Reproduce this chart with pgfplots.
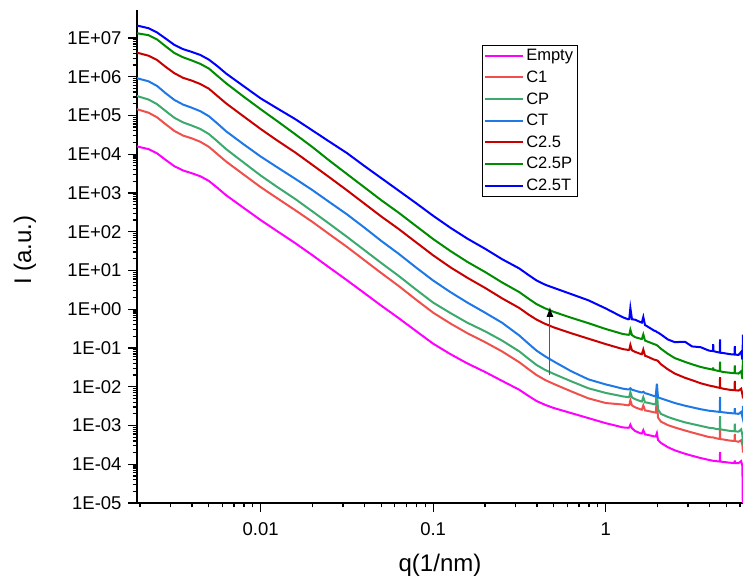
\documentclass[border=0pt]{standalone}
\usepackage{fontspec}
\setmainfont{Liberation Sans}
\usepackage{pgfplots}
\pgfplotsset{compat=1.18}
\usepackage{pgfplotstable}
\usetikzlibrary{arrows.meta}

\definecolor{cEmpty}{RGB}{255,0,255}
\definecolor{cCone}{RGB}{240,80,75}
\definecolor{cCP}{RGB}{60,170,110}
\definecolor{cCT}{RGB}{30,120,230}
\definecolor{cCtwo}{RGB}{200,0,0}
\definecolor{cCtwoP}{RGB}{0,140,0}
\definecolor{cCtwoT}{RGB}{0,0,255}

% q (1/nm) and intensity (a.u.) of each sample
\pgfplotstableread{
q       E         C1        CP        CT        C25       C25P      C25T
0.00192 1.585e4   1.445e5   3.162e5   9.120e5   4.169e6   1.318e7   2.089e7
0.00224 1.349e4   1.175e5   2.570e5   7.586e5   3.467e6   1.175e7   1.778e7
0.00251 1.047e4   8.913e4   1.950e5   5.754e5   2.692e6   9.120e6   1.380e7
0.00282 7.079e3   5.888e4   1.288e5   3.715e5   1.778e6   6.026e6   9.550e6
0.00316 4.898e3   3.981e4   8.710e4   2.512e5   1.230e6   4.074e6   6.607e6
0.00355 3.802e3   3.020e4   6.607e4   1.905e5   9.333e5   3.162e6   5.129e6
0.00398 3.236e3   2.570e4   5.495e4   1.585e5   7.943e5   2.630e6   4.365e6
0.00447 2.692e3   2.089e4   4.467e4   1.288e5   6.457e5   2.138e6   3.631e6
0.00501 2.042e3   1.549e4   3.311e4   9.550e4   4.898e5   1.622e6   2.754e6
0.00562 1.349e3   1.000e4   2.138e4   6.166e4   3.162e5   1.047e6   1.862e6
0.00631 8.710e2   6.457e3   1.349e4   3.890e4   2.042e5   6.761e5   1.202e6
0.00794 4.169e2   3.020e3   6.166e3   1.820e4   9.550e4   3.090e5   5.754e5
0.0100  1.995e2   1.413e3   2.818e3   8.710e3   4.467e4   1.445e5   2.754e5
0.0126  1.000e2   7.079e2   1.380e3   4.467e3   2.188e4   6.918e4   1.479e5
0.0158  5.129e1   3.631e2   7.079e2   2.344e3   1.122e4   3.311e4   8.128e4
0.0200  2.455e1   1.778e2   3.311e2   1.175e3   5.248e3   1.514e4   4.074e4
0.0251  1.175e1   8.511e1   1.585e2   5.754e2   2.512e3   6.761e3   2.089e4
0.0316  5.623     4.074e1   7.413e1   2.818e2   1.175e3   3.090e3   1.072e4
0.0398  2.630     1.862e1   3.388e1   1.288e2   5.370e2   1.413e3   5.012e3
0.0501  1.230     8.511     1.549e1   5.754e1   2.455e2   6.457e2   2.399e3
0.0631  5.888e-1  3.981     7.244     2.692e1   1.175e2   3.090e2   1.148e3
0.0794  2.754e-1  1.778     3.236     1.202e1   5.370e1   1.413e2   5.495e2
0.100   1.288e-1  8.128e-1  1.479     5.495     2.455e1   6.457e1   2.570e2
0.126   6.918e-2  4.266e-1  7.943e-1  2.754     1.202e1   3.162e1   1.259e2
0.158   3.981e-2  2.399e-1  4.467e-1  1.479     6.457     1.660e1   6.607e1
0.200   2.399e-2  1.413e-1  2.692e-1  8.128e-1  3.548     9.120     3.631e1
0.251   1.413e-2  8.128e-2  1.549e-1  4.467e-1  1.905     4.898     1.950e1
0.316   8.318e-3  4.266e-2  8.128e-2  2.089e-1  1.072     2.754     1.122e1
0.355   5.888e-3  2.884e-2  5.370e-2  1.318e-1  7.413e-1  1.905     7.762
0.398   4.266e-3  1.995e-2  3.631e-2  8.511e-2  5.370e-1  1.349     5.495
0.447   3.388e-3  1.479e-2  2.692e-2  6.026e-2  4.169e-1  1.047     4.266
0.501   2.818e-3  1.175e-2  2.138e-2  4.467e-2  3.388e-1  8.511e-1  3.548
0.631   2.089e-3  7.586e-3  1.380e-2  2.512e-2  2.399e-1  6.026e-1  2.455
0.794   1.549e-3  5.012e-3  9.120e-3  1.549e-2  1.738e-1  4.365e-1  1.698
1.000   1.148e-3  3.802e-3  6.918e-3  1.148e-2  1.259e-1  3.090e-1  1.047
1.259   8.913e-4  3.467e-3  5.623e-3  8.913e-3  9.333e-2  2.291e-1  6.166e-1
1.349   8.710e-4  3.311e-3  5.370e-3  8.511e-3  8.913e-2  2.188e-1  5.495e-1
1.37    8.900e-4  3.400e-3  5.500e-3  8.600e-3  9.000e-2  2.200e-1  5.600e-1
1.39    1.047e-3  4.467e-3  7.244e-3  9.120e-3  1.202e-1  2.951e-1  1.072
1.42    8.500e-4  3.300e-3  5.300e-3  8.400e-3  8.700e-2  2.150e-1  5.500e-1
1.479   7.244e-4  2.951e-3  4.786e-3  7.943e-3  7.943e-2  1.905e-1  5.370e-1
1.585   6.310e-4  2.630e-3  4.266e-3  7.244e-3  7.079e-2  1.738e-1  4.677e-1
1.62    6.200e-4  2.550e-3  4.150e-3  7.100e-3  6.900e-2  1.700e-1  4.500e-1
1.652   7.586e-4  3.311e-3  5.370e-3  7.413e-3  9.120e-2  2.239e-1  6.310e-1
1.69    5.900e-4  2.450e-3  3.950e-3  6.800e-3  6.300e-2  1.550e-1  3.900e-1
1.738   5.754e-4  2.399e-3  3.890e-3  6.607e-3  6.026e-2  1.479e-1  3.631e-1
1.905   5.248e-4  2.188e-3  3.548e-3  5.754e-3  5.012e-2  1.259e-1  2.818e-1
1.95    5.200e-4  2.150e-3  3.500e-3  5.600e-3  4.900e-2  1.220e-1  2.720e-1
1.98    6.310e-4  4.677e-3  8.511e-3  1.202e-2  4.786e-2  1.175e-1  2.570e-1
2.01    4.200e-4  1.600e-3  2.600e-3  5.300e-3  4.600e-2  1.120e-1  2.500e-1
2.089   3.548e-4  1.259e-3  1.995e-3  5.012e-3  3.802e-2  9.550e-2  2.239e-1
2.291   2.754e-4  1.023e-3  1.660e-3  4.365e-3  2.818e-2  7.079e-2  1.660e-1
2.512   2.291e-4  8.913e-4  1.445e-3  3.802e-3  2.188e-2  5.495e-2  1.413e-1
2.884   1.862e-4  7.413e-4  1.202e-3  3.236e-3  1.698e-2  4.365e-2  1.445e-1
3.162   1.660e-4  6.607e-4  1.096e-3  2.951e-3  1.479e-2  3.802e-2  1.096e-1
3.548   1.445e-4  5.754e-4  9.772e-4  2.630e-3  1.230e-2  3.236e-2  1.047e-1
3.981   1.288e-4  5.012e-4  8.710e-4  2.399e-3  1.072e-2  2.884e-2  8.511e-2
4.19    1.230e-4  4.898e-4  8.511e-4  2.344e-3  1.023e-2  2.754e-2  8.318e-2
4.20    1.230e-4  4.898e-4  8.511e-4  2.344e-3  1.023e-2  3.162e-2  1.259e-1
4.21    1.230e-4  4.898e-4  8.511e-4  2.344e-3  1.023e-2  2.754e-2  8.318e-2
4.365   1.202e-4  4.677e-4  8.128e-4  2.291e-3  9.772e-3  2.630e-2  7.943e-2
4.59    1.175e-4  4.467e-4  7.943e-4  2.239e-3  9.333e-3  2.512e-2  7.586e-2
4.60    2.089e-4  1.000e-3  1.738e-3  5.495e-3  1.778e-2  4.467e-2  1.660e-1
4.61    1.175e-4  4.467e-4  7.943e-4  2.239e-3  9.333e-3  2.512e-2  7.586e-2
4.786   1.148e-4  4.365e-4  7.762e-4  2.188e-3  8.913e-3  2.399e-2  7.413e-2
5.248   1.096e-4  4.074e-4  7.244e-4  2.089e-3  8.318e-3  2.291e-2  6.918e-2
5.59    1.072e-4  3.981e-4  7.079e-4  2.042e-3  8.128e-3  2.239e-2  6.761e-2
5.60    1.259e-4  6.026e-4  1.122e-3  2.818e-3  1.413e-2  3.548e-2  1.122e-1
5.61    1.072e-4  3.981e-4  7.079e-4  2.042e-3  8.128e-3  2.239e-2  6.761e-2
5.888   1.072e-4  3.802e-4  6.918e-4  1.995e-3  7.943e-3  2.188e-2  6.607e-2
6.10    1.202e-4  4.169e-4  7.943e-4  2.239e-3  8.913e-3  2.512e-2  7.943e-2
6.20    8.913e-5  3.162e-4  5.623e-4  1.660e-3  6.310e-3  1.585e-2  5.012e-2
6.25    3.0e-6    2.0e-4    3.2e-4    3.2e-3    5.0e-3    6.3e-2    2.2e-1
}\saxs

\pgfplotsset{curve/.style={#1, line width=2pt}}

\begin{document}
\begin{tikzpicture}
\begin{axis}[
  name=ax,
  scale only axis, width=606pt, height=493pt,
  xmode=log, ymode=log,
  xmin=0.00192, xmax=6.25, ymin=1e-5, ymax=5.25e7,
  axis x line*=bottom, axis y line*=left,
  axis line style={line width=1.3pt},
  tick align=outside, major tick length=9pt, minor tick length=4.5pt,
  tick style={black, line width=1.2pt},
  xtick={0.01,0.1,1}, xticklabels={0.01,0.1,1},
  minor xtick={0.002,0.003,0.004,0.005,0.006,0.007,0.008,0.009,
    0.02,0.03,0.04,0.05,0.06,0.07,0.08,0.09,
    0.2,0.3,0.4,0.5,0.6,0.7,0.8,0.9,2,3,4,5,6},
  ytickten={-5,...,7},
  yticklabel={\pgfmathtruncatemacro{\ex}{round(\tick/ln(10))}%
    \ifnum\ex<0 1E-0\the\numexpr-\ex\relax\else 1E+0\ex\fi},
  tick label style={font=\fontsize{18.5}{22}\selectfont},
  yticklabel style={xshift=-3pt},
  xticklabel style={yshift=-7pt},
  label style={font=\fontsize{24}{28}\selectfont},
  xlabel={q(1/nm)}, ylabel={I (a.u.)},
  xlabel style={at={(axis description cs:0.5,-0.126)}, anchor=center},
  ylabel style={at={(axis description cs:-0.185,0.513)}, anchor=center},
  legend style={at={(0.569,0.929)}, anchor=north west, draw=black, line width=0.9pt,
    font=\fontsize{16.5}{20}\selectfont, inner sep=2pt, row sep=4.6pt},
  legend cell align=left,
  legend image code/.code={\draw[#1, line width=2pt] (0pt,0pt) -- (38pt,0pt);},
]
\addplot[curve=cEmpty] table[x=q, y=E] {\saxs};
\addlegendentry{Empty}
\addplot[curve=cCone] table[x=q, y=C1] {\saxs};
\addlegendentry{C1}
\addplot[curve=cCP] table[x=q, y=CP] {\saxs};
\addlegendentry{CP}
\addplot[curve=cCT] table[x=q, y=CT] {\saxs};
\addlegendentry{CT}
\addplot[curve=cCtwo] table[x=q, y=C25] {\saxs};
\addlegendentry{C2.5}
\addplot[curve=cCtwoP] table[x=q, y=C25P] {\saxs};
\addlegendentry{C2.5P}
\addplot[curve=cCtwoT] table[x=q, y=C25T] {\saxs};
\addlegendentry{C2.5T}
\draw[-{Latex[length=10pt,width=7pt,color=black]}, line width=1pt, black!65] (axis cs:0.475,0.02) -- (axis cs:0.475,1.15);
\end{axis}
\pgfresetboundingbox
\path[use as bounding box] ([shift={(-137pt,-79pt)}]ax.south west) rectangle ([shift={(2pt,10pt)}]ax.north east);
\end{tikzpicture}
\end{document}
